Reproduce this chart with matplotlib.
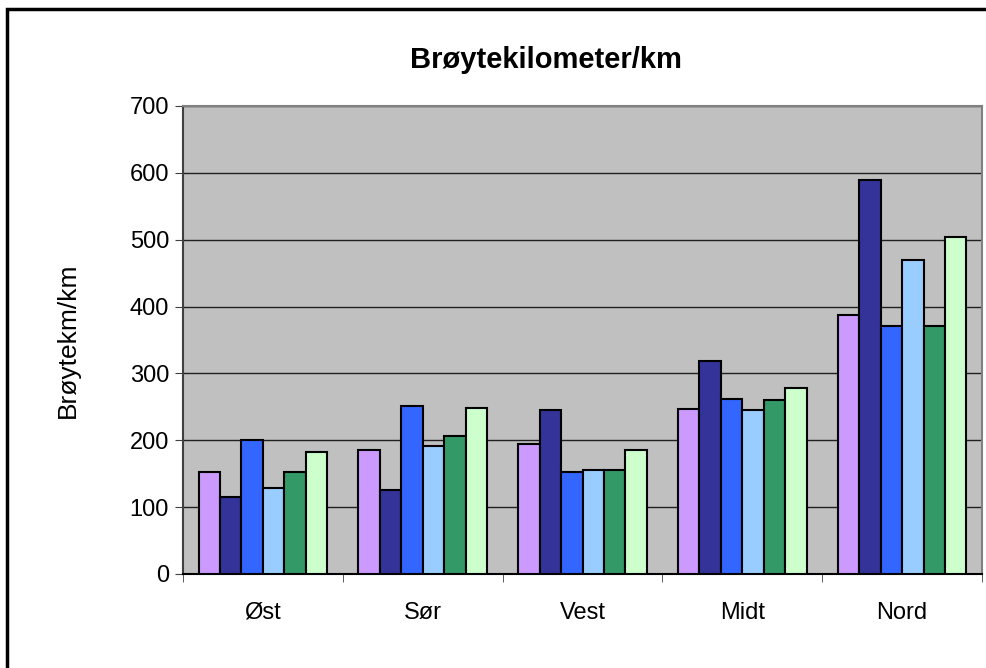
import numpy as np
import matplotlib.pyplot as plt
from matplotlib.patches import Rectangle

plt.rcParams['font.family'] = ['Liberation Sans', 'DejaVu Sans']

regions = ["Øst", "Sør", "Vest", "Midt", "Nord"]
series1 = [152, 186, 194, 247, 388]
series2 = [115, 126, 245, 318, 590]
series3 = [200, 251, 153, 262, 371]
series4 = [129, 192, 155, 245, 469]
series5 = [152, 206, 155, 261, 371]
series6 = [182, 249, 185, 278, 504]
colors = ["#CC99FF", "#333399", "#3366FF", "#99CCFF", "#339966", "#CCFFCC"]

data = [series1, series2, series3, series4, series5, series6]

fig = plt.figure(figsize=(9.87, 6.68), dpi=100)
ax = fig.add_axes([183 / 987, 94 / 668, 799 / 987, 468 / 668])
ax.set_facecolor("#C0C0C0")

x = np.arange(len(regions))
w = 0.134
for i, vals in enumerate(data):
    ax.bar(x + (i - 2.5) * w, vals, w, color=colors[i], edgecolor="black",
           linewidth=1.5, zorder=3)

ax.set_xlim(-0.5, 4.5)
ax.set_ylim(0, 700)
ax.set_yticks(range(0, 701, 100))
ax.set_xticks(x)
ax.set_xticklabels(regions, fontsize=17)
ax.set_xticks(np.arange(-0.5, 5, 1), minor=True)
ax.tick_params(axis="x", which="major", length=0, pad=20)
ax.tick_params(axis="x", which="minor", length=6, color="#404040")
ax.tick_params(axis="y", labelsize=17, length=6, color="#404040", pad=4)
ax.yaxis.grid(True, color="#202020", linewidth=1, zorder=0)
ax.set_axisbelow(True)

for side in ["top", "right"]:
    ax.spines[side].set_color("#808080")
    ax.spines[side].set_linewidth(1.5)
ax.spines["left"].set_color("#404040")
ax.spines["left"].set_linewidth(1.5)
ax.spines["bottom"].set_color("black")
ax.spines["bottom"].set_linewidth(1.5)

ax.set_ylabel("Brøytekm/km", fontsize=19, labelpad=36)
fig.text(546 / 987, 1 - 60 / 668, "Brøytekilometer/km", fontsize=21,
         fontweight="bold", ha="center", va="center")

fig.patches.append(Rectangle((7 / 987, -0.1), 1.1, 1 - 9 / 668 + 0.1,
                             transform=fig.transFigure, fill=False,
                             edgecolor="black", linewidth=2.5))

fig.savefig("out.png", dpi=100)
